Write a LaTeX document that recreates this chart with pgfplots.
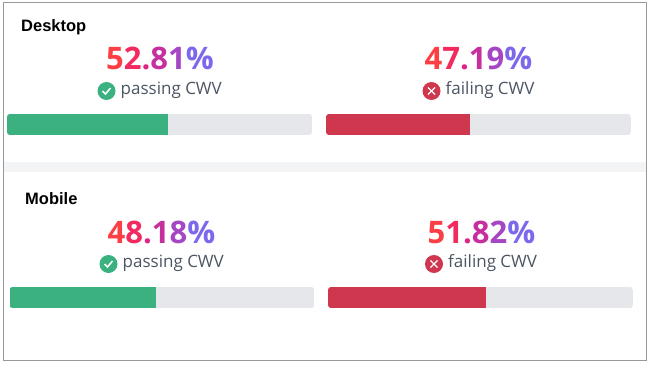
\documentclass[border=0pt]{standalone}
\usepackage{fontspec}
\usepackage{pgfplots}
\pgfplotsset{compat=1.18}
\setmainfont{Liberation Sans}
\newfontfamily\numfont{Open Sans}
\newfontfamily\labfont{Open Sans}
\definecolor{cA}{HTML}{FB3F44}
\definecolor{cB}{HTML}{F32A60}
\definecolor{cC}{HTML}{DE2585}
\definecolor{cD}{HTML}{C52F9E}
\definecolor{cE}{HTML}{A547C4}
\definecolor{cF}{HTML}{7C68EC}
\definecolor{trackc}{HTML}{E5E7EB}
\definecolor{greenc}{HTML}{3AB17E}
\definecolor{redc}{HTML}{CF374F}
\definecolor{labc}{HTML}{4B5563}
\definecolor{bandc}{HTML}{F3F4F6}
\newcommand{\pct}[5]{{\fontsize{31}{31}\selectfont\numfont\bfseries\textcolor{cA}{#1}\textcolor{cB}{#2}\textcolor{cC}{.}\textcolor{cD}{#3}\textcolor{cE}{#4}\textcolor{cF}{\%}}}
\newcommand{\lab}[1]{{\fontsize{17}{17}\selectfont\labfont\textcolor{labc}{#1}}}
% x0 = left edge, ytop = top edge from the image top, value, colour
\newcommand{\pbar}[4]{%
\begin{scope}
\clip[rounded corners=3pt] (#1pt,{(365-#2)*1pt}) rectangle ({(#1+305)*1pt},{(365-#2-21)*1pt});
\begin{axis}[anchor=south west,at={(#1pt,{(365-#2-21)*1pt})},scale only axis,width=305pt,height=21pt,
  xmin=0,xmax=100,ymin=-0.5,ymax=0.5,hide axis,clip=false]
\addplot[xbar,bar width=21pt,fill=trackc,draw=none] coordinates {(100,0)};
\addplot[xbar,bar width=21pt,fill=#4,draw=none] coordinates {(#3,0)};
\end{axis}
\end{scope}}
\newcommand{\okicon}[2]{%
\fill[greenc] (#1pt,{(365-#2)*1pt}) circle (9pt);
\draw[white,line width=1.5pt] ({(#1-4)*1pt},{(365-#2)*1pt}) -- ({(#1-1)*1pt},{(365-#2-3)*1pt}) -- ({(#1+4)*1pt},{(365-#2+3)*1pt});}
\newcommand{\noicon}[2]{%
\fill[redc] (#1pt,{(365-#2)*1pt}) circle (9pt);
\draw[white,line width=1.1pt] ({(#1-3.6)*1pt},{(365-#2-3.6)*1pt}) -- ({(#1+3.6)*1pt},{(365-#2+3.6)*1pt});
\draw[white,line width=1.1pt] ({(#1-3.6)*1pt},{(365-#2+3.6)*1pt}) -- ({(#1+3.6)*1pt},{(365-#2-3.6)*1pt});}
\newcommand{\txt}[4]{\node[anchor=base #1,inner sep=0pt] at (#2pt,{(365-#3)*1pt}) {#4};}
\begin{document}
\begin{tikzpicture}
\path[use as bounding box] (0,0) rectangle (650pt,365pt);
\fill[white] (0,0) rectangle (650pt,365pt);
\fill[bandc] (3pt,{(365-162)*1pt}) rectangle (646pt,{(365-172)*1pt});
\draw[gray!80,line width=1pt] (3pt,5pt) rectangle (646pt,362pt);
\txt{west}{21}{31.5}{\fontsize{16.5}{16.5}\selectfont\bfseries Desktop}
\txt{west}{25}{204.5}{\fontsize{16.5}{16.5}\selectfont\bfseries Mobile}
\txt{}{160}{70}{\pct{5}{2}{8}{1}{}}
\txt{}{478.5}{70}{\pct{4}{7}{1}{9}{}}
\txt{}{161.5}{243}{\pct{4}{8}{1}{8}{}}
\txt{}{481.5}{243}{\pct{5}{1}{8}{2}{}}
\okicon{106.5}{91}
\noicon{431.5}{91}
\okicon{108.5}{264}
\noicon{434}{264}
\txt{west}{120.5}{94}{\lab{passing CWV}}
\txt{west}{445.5}{94}{\lab{failing CWV}}
\txt{west}{122.5}{267}{\lab{passing CWV}}
\txt{west}{448}{267}{\lab{failing CWV}}
\pbar{7}{114}{52.81}{greenc}
\pbar{326}{114}{47.19}{redc}
\pbar{9.5}{287}{48.18}{greenc}
\pbar{328}{287}{51.82}{redc}
\end{tikzpicture}
\end{document}
